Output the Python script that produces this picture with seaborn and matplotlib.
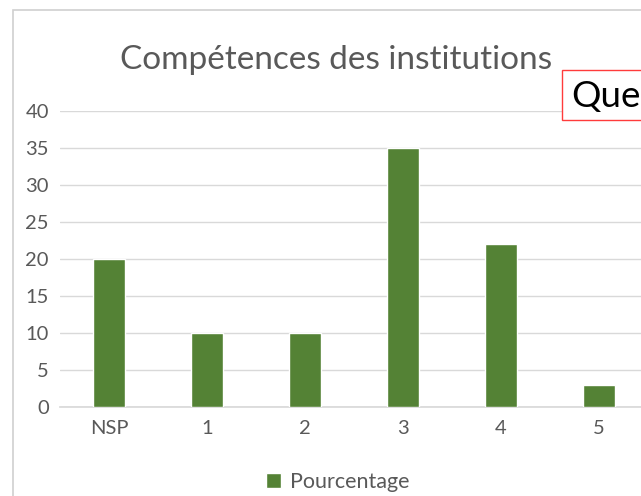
import matplotlib
matplotlib.use("Agg")
import matplotlib.pyplot as plt
from matplotlib.patches import Rectangle
import seaborn as sns
import pandas as pd

# Data
categories = ["NSP", "1", "2", "3", "4", "5"]
pourcentage = [20, 10, 10, 35, 22, 3]
y_ticks = [0, 5, 10, 15, 20, 25, 30, 35, 40]

sns.set_theme(style="white")
plt.rcParams["font.family"] = ["Lato", "DejaVu Sans"]

GREEN = "#548235"
TEXT = "#595959"
GRID = "#d9d9d9"

df = pd.DataFrame({"categorie": categories, "Pourcentage": pourcentage})

fig = plt.figure(figsize=(6.41, 4.96), dpi=100)
W, H = 641, 496

# plot area runs past the right edge of the picture (cropped chart)
ax = fig.add_axes([60 / W, 1 - 407 / H, 588 / W, 296 / H])
sns.barplot(data=df, x="categorie", y="Pourcentage", color=GREEN,
            width=0.33, saturation=1, ax=ax, label="Pourcentage", zorder=3)

ax.set_xlim(-0.5, 5.5)
ax.set_ylim(0, 40)
ax.set_yticks(y_ticks)
ax.grid(axis="y", color=GRID, linewidth=1, zorder=0)
ax.set_axisbelow(True)
for side in ["top", "right", "left"]:
    ax.spines[side].set_visible(False)
ax.spines["bottom"].set_color(GRID)
ax.tick_params(axis="both", length=0, labelsize=14.5, labelcolor=TEXT)
ax.tick_params(axis="y", pad=8)
ax.tick_params(axis="x", pad=9)
ax.set_xlabel("")
ax.set_ylabel("")

# chart title
fig.text(336 / W, 1 - 60 / H, "Compétences des institutions", ha="center",
         va="center", fontsize=24, color=TEXT)

# legend below the plot
ax.legend(loc="center", bbox_to_anchor=(338 / W, 1 - 482 / H),
          bbox_transform=fig.transFigure, frameon=False, fontsize=15.5,
          handlelength=0.7, handleheight=0.7, handletextpad=0.4,
          labelcolor=TEXT)

# outer chart border
fig.patches.append(Rectangle((13 / W, -0.1), 1.2, 1 - 10 / H + 0.1,
                             transform=fig.transFigure, fill=False,
                             edgecolor="#d0d0d0", linewidth=1.2, zorder=0))

# red text box overlapping the top right corner (cut by the picture edge)
fig.patches.append(Rectangle((562 / W, 1 - 120 / H), 0.3, 50 / H,
                             transform=fig.transFigure, facecolor="white",
                             edgecolor="#ff3b3b", linewidth=1, zorder=5))
fig.text(571 / W, 1 - 96 / H, "Que", ha="left", va="center",
         fontsize=26.5, color="black", zorder=6)

fig.savefig("out.png", dpi=100)
